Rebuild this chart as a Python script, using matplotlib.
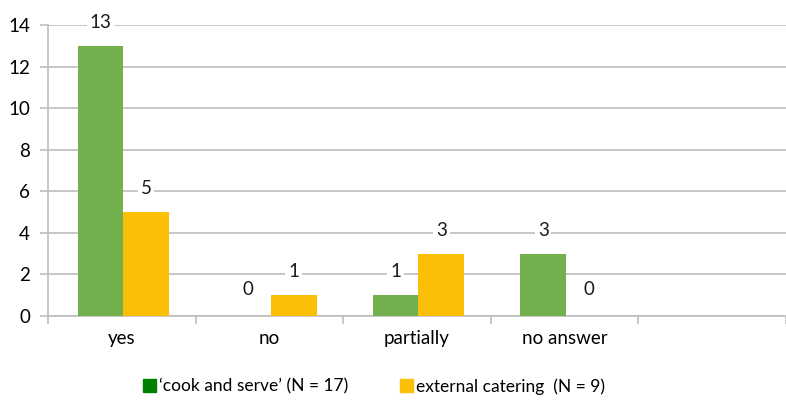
import matplotlib.pyplot as plt
import numpy as np
from matplotlib.patches import Patch

plt.rcParams['font.family'] = ['Lato', 'DejaVu Sans']

categories = ['yes', 'no', 'partially', 'no answer', '']
cook_serve = [13, 0, 1, 3, None]
external = [5, 1, 3, 0, None]
label_cook = '\u2018cook and serve\u2019 (N = 17)'
label_ext = 'external catering  (N = 9)'

green = '#71B04C'
orange = '#FBBF07'
grid_c = '#BEBEBE'

fig = plt.figure(figsize=(7.86, 4.01), dpi=100)
ax = fig.add_axes([48 / 786, 0.212, 1 - 48 / 786, 0.7257])

x = np.arange(len(categories))
w = 0.31
shift = 0.01
for i, (a, b) in enumerate(zip(cook_serve, external)):
    if a is None:
        continue
    ax.bar(x[i] - w / 2 + shift, a, w, color=green, zorder=3)
    ax.bar(x[i] + w / 2 + shift, b, w, color=orange, zorder=3)
    for xv, v in ((x[i] - w / 2 + shift, a), (x[i] + w / 2 + shift, b)):
        off = 17 if v > 0 else 19
        ax.annotate(str(v), (xv, v), xytext=(0, off), textcoords='offset points',
                    ha='center', va='center', fontsize=13.5, color='#1a1a1a',
                    bbox=dict(boxstyle='square,pad=0.15', fc='white', ec='none'),
                    zorder=4)

ax.set_xlim(-0.5, 4.47)
ax.set_ylim(0, 14)
ax.set_yticks(range(0, 15, 2))
ax.yaxis.grid(True, color=grid_c, lw=1.2, zorder=0)
ax.set_axisbelow(True)

ax.set_xticks(x)
ax.set_xticklabels(categories)
ax.set_xticks(np.arange(-0.5, 4.6, 1), minor=True)
ax.tick_params(axis='x', which='major', length=0, pad=10, labelsize=13.5)
ax.tick_params(axis='x', which='minor', length=6, color=grid_c, width=1.2, direction='out')
ax.tick_params(axis='y', length=6, color=grid_c, width=1.2, pad=7, labelsize=13.5)

for s in ('top', 'right'):
    ax.spines[s].set_visible(False)
ax.spines['left'].set_color(grid_c)
ax.spines['left'].set_linewidth(1.2)
ax.spines['bottom'].set_color(grid_c)
ax.spines['bottom'].set_linewidth(1.2)

handles = [Patch(color='#008000', label=label_cook), Patch(color=orange, label=label_ext)]
fig.legend(handles=handles, loc='center', bbox_to_anchor=(0.476, 0.036), ncol=2,
           frameon=False, fontsize=12.5, handlelength=0.75, handleheight=0.75,
           handletextpad=0.15, columnspacing=3.0)

fig.savefig('out.png', dpi=100)
